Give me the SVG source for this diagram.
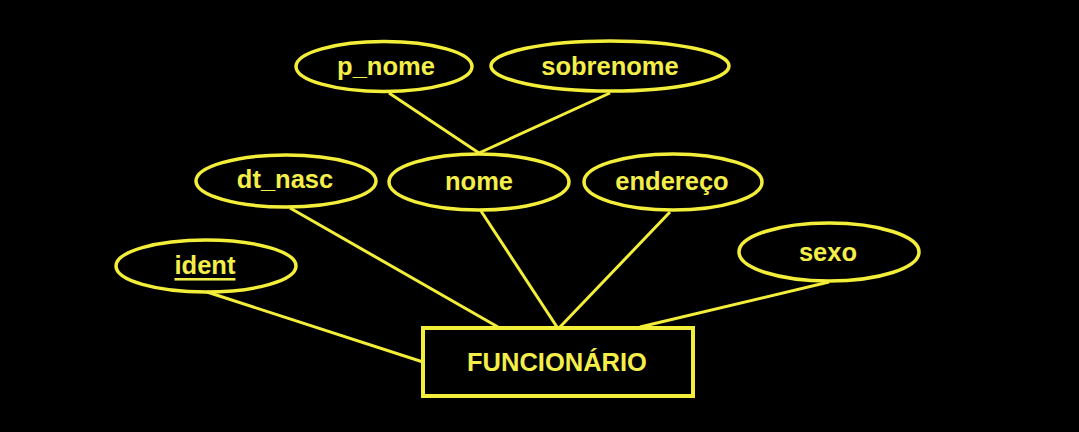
<svg xmlns="http://www.w3.org/2000/svg" width="1079" height="432" viewBox="0 0 1079 432">
<style>
.a{fill:none;stroke:#f3ee3a;stroke-width:3.5}
.e{fill:none;stroke:#f3ee3a;stroke-width:4}
.c line{stroke:#f3ee3a;stroke-width:3}
text{font-family:"Liberation Sans",Arial,sans-serif;font-weight:bold;fill:#f3ee4a;text-anchor:middle;dominant-baseline:central;font-size:25.5px}
</style>
<rect width="1079" height="432" fill="#000"/>
<g class="c" id="connectors">
<line x1="389" y1="93" x2="479" y2="153"/>
<line x1="610" y1="93" x2="479" y2="153"/>
<line x1="290" y1="208" x2="498" y2="327"/>
<line x1="481" y1="211" x2="557" y2="327"/>
<line x1="670" y1="212" x2="560" y2="327"/>
<line x1="207" y1="292" x2="423" y2="362"/>
<line x1="829" y1="282" x2="640" y2="327"/>
</g>
<g id="p_nome"><ellipse class="a" cx="384" cy="66.5" rx="88" ry="25"/><text x="386" y="66">p_nome</text></g>
<g id="sobrenome"><ellipse class="a" cx="610" cy="66" rx="119" ry="25"/><text x="610" y="66">sobrenome</text></g>
<g id="dt_nasc"><ellipse class="a" cx="286" cy="181" rx="90" ry="26"/><text x="285" y="179">dt_nasc</text></g>
<g id="nome"><ellipse class="a" cx="479" cy="182" rx="90" ry="28"/><text x="479" y="181">nome</text></g>
<g id="endereco"><ellipse class="a" cx="673" cy="182" rx="89" ry="28"/><text x="672" y="181">endereço</text></g>
<g id="ident"><ellipse class="a" cx="206" cy="266" rx="90" ry="26"/><text x="205" y="265" text-decoration="underline">ident</text></g>
<g id="sexo"><ellipse class="a" cx="829" cy="252" rx="90" ry="29"/><text x="828" y="252">sexo</text></g>
<g id="funcionario"><rect class="e" x="423" y="328" width="270" height="68"/><text x="557" y="362" font-size="27.5">FUNCIONÁRIO</text></g>
</svg>
